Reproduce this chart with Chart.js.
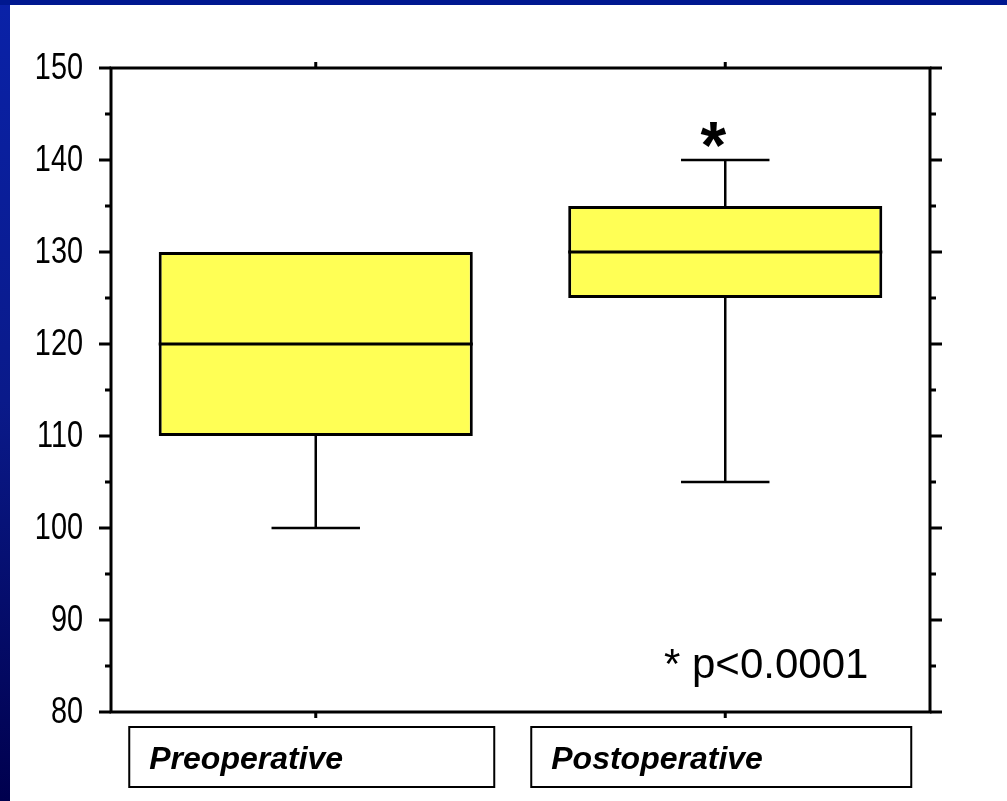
<!DOCTYPE html>
<html>
<head>
<meta charset="utf-8">
<script src="https://cdn.jsdelivr.net/npm/chart.js@4"></script>
<style>
  html, body { margin: 0; padding: 0; background: #fff; }
  #wrap { position: relative; width: 1007px; height: 801px; overflow: hidden; }
  #left { position: absolute; left: 0; top: 0; width: 10px; height: 801px;
          background: linear-gradient(#0a22a8, #0a1a8a 50%, #00004e); }
  #top { position: absolute; left: 0; top: 0; width: 1007px; height: 5px; background: #001890; }
  canvas { position: absolute; left: 0; top: 0; }
</style>
</head>
<body>
<div id="wrap">
  <div id="left"></div>
  <div id="top"></div>
  <canvas id="boxChart" width="1007" height="801"></canvas>
</div>
<script>
const categories = ["Preoperative", "Postoperative"];
const whiskerLow = [100, 105];
const q1 = [110, 125];
const median = [120, 130];
const q3 = [130, 135];
const whiskerHigh = [130, 140];
const yTicks = [80, 90, 100, 110, 120, 130, 140, 150];
const yMinor = [85, 95, 105, 115, 125, 135, 145];
const starred = [false, true];
const note = "* p<0.0001";

// whiskers, medians, frame and labels drawn on top of the floating bars
const boxPlotPlugin = {
  id: "boxPlot",
  afterDatasetsDraw(chart) {
    const ctx = chart.ctx;
    const x = chart.scales.x;
    const y = chart.scales.y;
    const area = chart.chartArea;
    const step = x.getPixelForValue(1) - x.getPixelForValue(0);
    const boxHalf = step * 0.767 / 2;
    const capHalf = step * 0.108;

    ctx.save();
    ctx.strokeStyle = "#000";
    categories.forEach((c, i) => {
      const cx = x.getPixelForValue(i);
      ctx.lineWidth = 2.5;
      ctx.beginPath();
      ctx.moveTo(cx, y.getPixelForValue(q1[i]));
      ctx.lineTo(cx, y.getPixelForValue(whiskerLow[i]));
      ctx.moveTo(cx - capHalf, y.getPixelForValue(whiskerLow[i]));
      ctx.lineTo(cx + capHalf, y.getPixelForValue(whiskerLow[i]));
      if (whiskerHigh[i] > q3[i]) {
        ctx.moveTo(cx, y.getPixelForValue(q3[i]));
        ctx.lineTo(cx, y.getPixelForValue(whiskerHigh[i]));
        ctx.moveTo(cx - capHalf, y.getPixelForValue(whiskerHigh[i]));
        ctx.lineTo(cx + capHalf, y.getPixelForValue(whiskerHigh[i]));
      }
      ctx.stroke();
      ctx.lineWidth = 3;
      ctx.beginPath();
      ctx.moveTo(cx - boxHalf, y.getPixelForValue(median[i]));
      ctx.lineTo(cx + boxHalf, y.getPixelForValue(median[i]));
      ctx.stroke();
      if (starred[i]) {
        ctx.fillStyle = "#000";
        ctx.font = "bold 66px 'Liberation Sans', Arial, sans-serif";
        ctx.textAlign = "center";
        ctx.textBaseline = "alphabetic";
        ctx.fillText("*", cx - 12, y.getPixelForValue(whiskerHigh[i]) + 8);
      }
    });

    // frame
    ctx.lineWidth = 3;
    ctx.beginPath();
    ctx.moveTo(area.left, area.top);
    ctx.lineTo(area.right, area.top);
    ctx.lineTo(area.right, area.bottom);
    ctx.lineTo(area.left, area.bottom);
    ctx.closePath();
    ctx.stroke();

    yTicks.forEach(v => {
      const py = y.getPixelForValue(v);
      ctx.beginPath();
      ctx.moveTo(area.left - 12, py);
      ctx.lineTo(area.left, py);
      ctx.moveTo(area.right, py);
      ctx.lineTo(area.right + 12, py);
      ctx.stroke();
    });
    yMinor.forEach(v => {
      const py = y.getPixelForValue(v);
      ctx.beginPath();
      ctx.moveTo(area.left - 6, py);
      ctx.lineTo(area.left, py);
      ctx.moveTo(area.right, py);
      ctx.lineTo(area.right + 6, py);
      ctx.stroke();
    });
    categories.forEach((c, i) => {
      const cx = x.getPixelForValue(i);
      ctx.beginPath();
      ctx.moveTo(cx, area.top - 6);
      ctx.lineTo(cx, area.top);
      ctx.moveTo(cx, area.bottom);
      ctx.lineTo(cx, area.bottom + 6);
      ctx.stroke();
    });

    // y tick labels (narrow face)
    ctx.fillStyle = "#000";
    ctx.font = "37px 'Liberation Sans', Arial, sans-serif";
    ctx.textAlign = "right";
    ctx.textBaseline = "middle";
    yTicks.forEach(v => {
      const py = y.getPixelForValue(v);
      ctx.save();
      ctx.translate(area.left - 28, py + 1);
      ctx.scale(0.78, 1);
      ctx.fillText(String(v), 0, 0);
      ctx.restore();
    });

    // category labels in boxes
    ctx.font = "italic bold 32px 'Liberation Sans', Arial, sans-serif";
    ctx.textAlign = "left";
    ctx.textBaseline = "alphabetic";
    ctx.lineWidth = 2;
    const boxW = [365, 380];
    categories.forEach((c, i) => {
      const cx = x.getPixelForValue(i);
      const bx = cx - boxW[i] / 2 - 4;
      const by = area.bottom + 15;
      ctx.strokeRect(bx, by, boxW[i], 60);
      ctx.fillText(c, bx + 20, by + 42);
    });

    ctx.font = "42px 'Liberation Sans', Arial, sans-serif";
    ctx.textAlign = "left";
    ctx.fillText(note, 664, 678);
    ctx.restore();
  }
};

new Chart(document.getElementById("boxChart").getContext("2d"), {
  type: "bar",
  data: {
    labels: categories,
    datasets: [{
      data: categories.map((c, i) => [q1[i], q3[i]]),
      backgroundColor: "#ffff55",
      borderColor: "#000",
      borderWidth: 3,
      borderSkipped: false,
      barPercentage: 0.767,
      categoryPercentage: 1
    }]
  },
  options: {
    responsive: false,
    animation: false,
    layout: { padding: { left: 111, right: 77, top: 68, bottom: 89 } },
    plugins: { legend: { display: false }, tooltip: { enabled: false } },
    scales: {
      x: { display: false, offset: true },
      y: { display: false, min: 80, max: 150 }
    }
  },
  plugins: [boxPlotPlugin]
});
</script>
</body>
</html>
